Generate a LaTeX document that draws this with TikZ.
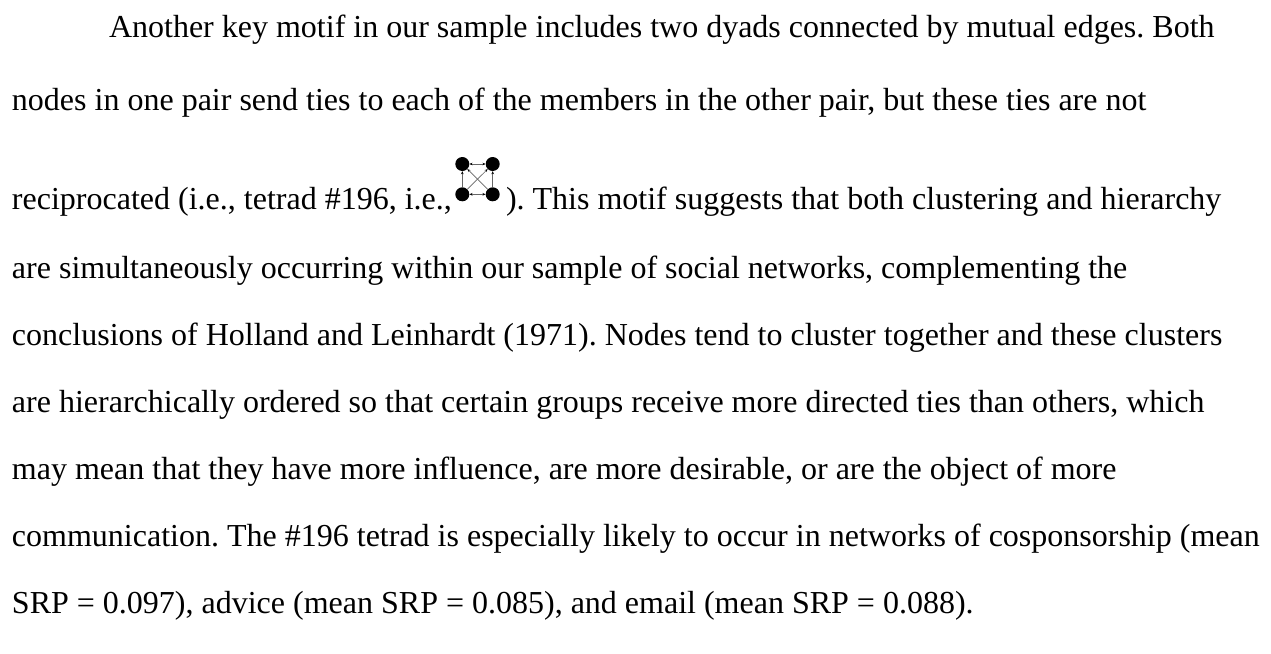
\documentclass[tikz,border=0pt]{standalone}
\usepackage{fontspec}
\setmainfont{Liberation Serif}
\usetikzlibrary{arrows.meta}
\begin{document}
\begin{tikzpicture}[x=1pt,y=-1pt,
  txt/.style={anchor=base west,inner sep=0pt,outer sep=0pt,
    font=\fontsize{32}{38}\selectfont\frenchspacing},
  dot/.style={circle,fill=black,inner sep=0pt,minimum width=13.6pt,minimum height=14pt},
  tie/.style={draw=black!60,line width=0.6pt,-{Stealth[length=3pt,width=2.6pt,color=black]}},
  mutual/.style={draw=black!60,line width=0.6pt,{Stealth[length=3pt,width=2.6pt,color=black]}-{Stealth[length=3pt,width=2.6pt,color=black]}}]
\useasboundingbox (0,0) rectangle (1271,653);
\fill[white] (0,0) rectangle (1271,653);

% paragraph, one node per printed line
\node[txt] (l1) at (109,37) {Another key motif in our sample includes two dyads connected by mutual edges. Both};
\node[txt] (l2) at (12,110) {nodes in one pair send ties to each of the members in the other pair, but these ties are not};
\node[txt] (l3a) at (12,209) {reciprocated (i.e., tetrad \#196, i.e.,};

% inline tetrad #196 symbol
\node[dot] (tl) at (462.3,164) {};
\node[dot] (tr) at (492.7,164) {};
\node[dot] (bl) at (462.3,194.3) {};
\node[dot] (br) at (492.7,194.3) {};
\draw[mutual] (tl) -- (tr);
\draw[mutual] (bl) -- (br);
\draw[tie] (bl) -- (tl);
\draw[tie] (br) -- (tr);
\draw[tie] (bl) -- (tr);
\draw[tie] (br) -- (tl);

\node[txt] (l3b) at (506,209) {). This motif suggests that both clustering and hierarchy};
\node[txt] (l4) at (12,278) {are simultaneously occurring within our sample of social networks, complementing the};
\node[txt] (l5) at (12,345) {conclusions of Holland and Leinhardt (1971). Nodes tend to cluster together and these clusters};
\node[txt] (l6) at (12,412) {are hierarchically ordered so that certain groups receive more directed ties than others, which};
\node[txt] (l7) at (12,479) {may mean that they have more influence, are more desirable, or are the object of more};
\node[txt] (l8) at (12,546) {communication. The \#196 tetrad is especially likely to occur in networks of cosponsorship (mean};
\node[txt] (l9) at (12,613) {SRP = 0.097), advice (mean SRP = 0.085), and email (mean SRP = 0.088).};
\end{tikzpicture}
\end{document}
